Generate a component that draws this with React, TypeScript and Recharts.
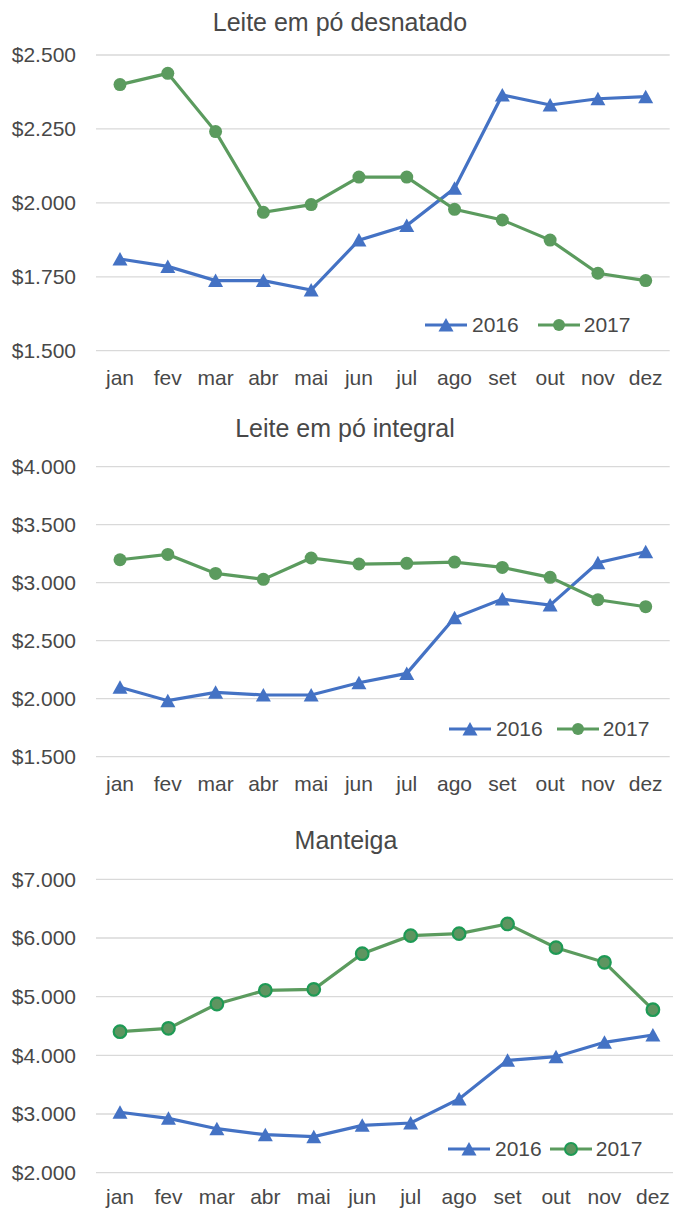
import React from 'react';
import { LineChart, Line, XAxis, YAxis, CartesianGrid } from 'recharts';

const months = ['jan', 'fev', 'mar', 'abr', 'mai', 'jun', 'jul', 'ago', 'set', 'out', 'nov', 'dez'];
const seriesNames = ['2016', '2017'];

// Leite em pó desnatado
const desnatado2016 = [1810, 1785, 1737, 1737, 1705, 1874, 1923, 2049, 2365, 2331, 2352, 2359];
const desnatado2017 = [2400, 2438, 2241, 1968, 1994, 2087, 2087, 1978, 1942, 1874, 1762, 1737];
const desnatadoTicks = [1500, 1750, 2000, 2250, 2500];

// Leite em pó integral
const integral2016 = [2098, 1983, 2055, 2032, 2032, 2138, 2218, 2698, 2859, 2807, 3172, 3267];
const integral2017 = [3198, 3244, 3080, 3029, 3213, 3161, 3167, 3178, 3132, 3046, 2853, 2793];
const integralTicks = [1500, 2000, 2500, 3000, 3500, 4000];

// Manteiga
const manteiga2016 = [3030, 2926, 2750, 2648, 2614, 2807, 2847, 3256, 3915, 3977, 4222, 4347];
const manteiga2017 = [4403, 4460, 4875, 5108, 5125, 5733, 6040, 6074, 6239, 5835, 5585, 4778];
const manteigaTicks = [2000, 3000, 4000, 5000, 6000, 7000];

const BLUE = '#4472C4';
const GREEN = '#5B9B5E';
const TEXT = '#484848';
const FONT = "'Liberation Sans', Arial, sans-serif";

const fmt = (v: number) => `$${(v / 1000).toFixed(3)}`;

const buildRows = (a: number[], b: number[]) =>
  months.map((m, i) => ({ month: m, s2016: a[i], s2017: b[i] }));

const TriangleDot = ({ cx, cy, fill }: any) => {
  if (cx == null || cy == null) return null;
  return <path d={`M${cx},${cy - 7} L${cx + 7.5},${cy + 6.5} L${cx - 7.5},${cy + 6.5} Z`} fill={fill} />;
};

type PanelProps = {
  title: string;
  a: number[];
  b: number[];
  ticks: number[];
  top: number;
  width: number;
  height: number;
  margin: { top: number; right: number; left: number; bottom: number };
  xTickMargin: number;
  titleBaseline: number;
  titleCenter: number;
  legendX: number;
  legendY: number;
  legendGap: number;
  ringed?: boolean;
};

const LegendIcon = ({ kind, ringed }: { kind: 'tri' | 'dot'; ringed?: boolean }) => (
  <svg width={42} height={16} style={{ display: 'block' }}>
    <line x1={0} y1={8} x2={42} y2={8} stroke={kind === 'tri' ? BLUE : GREEN} strokeWidth={3} />
    {kind === 'tri' ? (
      <path d="M21,1 L28.5,14.5 L13.5,14.5 Z" fill={BLUE} />
    ) : (
      <circle cx={21} cy={8} r={6} fill={ringed ? '#5E9560' : GREEN} stroke={ringed ? '#1E9A55' : 'none'} strokeWidth={2} />
    )}
  </svg>
);

const Panel = (p: PanelProps) => {
  const rows = buildRows(p.a, p.b);
  return (
    <>
      <div
        style={{
          position: 'absolute',
          left: p.titleCenter - 200,
          width: 400,
          top: p.titleBaseline - 21.2,
          fontSize: 25,
          lineHeight: '25px',
          textAlign: 'center',
          color: TEXT,
          fontFamily: FONT,
        }}
      >
        {p.title}
      </div>
      <div style={{ position: 'absolute', left: 0, top: p.top }}>
        <LineChart width={p.width} height={p.height} data={rows} margin={p.margin}>
          <CartesianGrid vertical={false} stroke="#D9D9D9" strokeWidth={1.3} />
          <XAxis
            dataKey="month"
            axisLine={false}
            tickLine={false}
            interval={0}
            padding={{ left: 24, right: 24 }}
            tickMargin={p.xTickMargin}
            tick={{ fontSize: 21, fill: TEXT, fontFamily: FONT }}
          />
          <YAxis
            width={96}
            domain={[p.ticks[0], p.ticks[p.ticks.length - 1]]}
            ticks={p.ticks}
            axisLine={false}
            tickLine={false}
            tickMargin={14}
            tickFormatter={fmt}
            tick={{ fontSize: 21, fill: TEXT, fontFamily: FONT }}
          />
          <Line
            dataKey="s2016"
            name={seriesNames[0]}
            stroke={BLUE}
            strokeWidth={3.2}
            isAnimationActive={false}
            dot={(d: any) => <TriangleDot key={`t-${d.index}`} cx={d.cx} cy={d.cy} fill={BLUE} />}
          />
          <Line
            dataKey="s2017"
            name={seriesNames[1]}
            stroke={GREEN}
            strokeWidth={3.2}
            isAnimationActive={false}
            dot={
              p.ringed
                ? { r: 6.3, fill: '#5E9560', stroke: '#1E9A55', strokeWidth: 2.2 }
                : { r: 6.5, fill: GREEN, stroke: 'none' }
            }
          />
        </LineChart>
      </div>
      <div
        style={{
          position: 'absolute',
          left: p.legendX,
          top: p.legendY - 12,
          height: 24,
          display: 'flex',
          alignItems: 'center',
          fontFamily: FONT,
          fontSize: 21,
          lineHeight: '24px',
          color: TEXT,
          whiteSpace: 'nowrap',
        }}
      >
        <LegendIcon kind="tri" />
        <span style={{ marginLeft: 5, marginRight: p.legendGap }}>{seriesNames[0]}</span>
        <LegendIcon kind="dot" ringed={p.ringed} />
        <span style={{ marginLeft: 4 }}>{seriesNames[1]}</span>
      </div>
    </>
  );
};

export default function App() {
  return (
    <div
      style={{
        position: 'absolute',
        left: 0,
        top: 0,
        width: 673,
        height: 1210,
        overflow: 'hidden',
        background: '#fff',
      }}
    >
      <Panel
        title="Leite em pó desnatado"
        a={desnatado2016}
        b={desnatado2017}
        ticks={desnatadoTicks}
        top={0}
        width={673}
        height={405}
        margin={{ top: 55, right: 3.3, left: 0, bottom: 24.3 }}
        xTickMargin={13}
        titleBaseline={31}
        titleCenter={340}
        legendX={425}
        legendY={325}
        legendGap={19}
      />
      <Panel
        title="Leite em pó integral"
        a={integral2016}
        b={integral2017}
        ticks={integralTicks}
        top={405}
        width={673}
        height={405}
        margin={{ top: 61.7, right: 3.3, left: 0, bottom: 23.3 }}
        xTickMargin={13}
        titleBaseline={437}
        titleCenter={345}
        legendX={449}
        legendY={729}
        legendGap={14}
      />
      <Panel
        title="Manteiga"
        a={manteiga2016}
        b={manteiga2017}
        ticks={manteigaTicks}
        top={810}
        width={680}
        height={400}
        margin={{ top: 69.3, right: 3.1, left: 0, bottom: 7.3 }}
        xTickMargin={10}
        titleBaseline={848.7}
        titleCenter={346}
        legendX={448}
        legendY={1149}
        legendGap={8}
        ringed
      />
    </div>
  );
}
